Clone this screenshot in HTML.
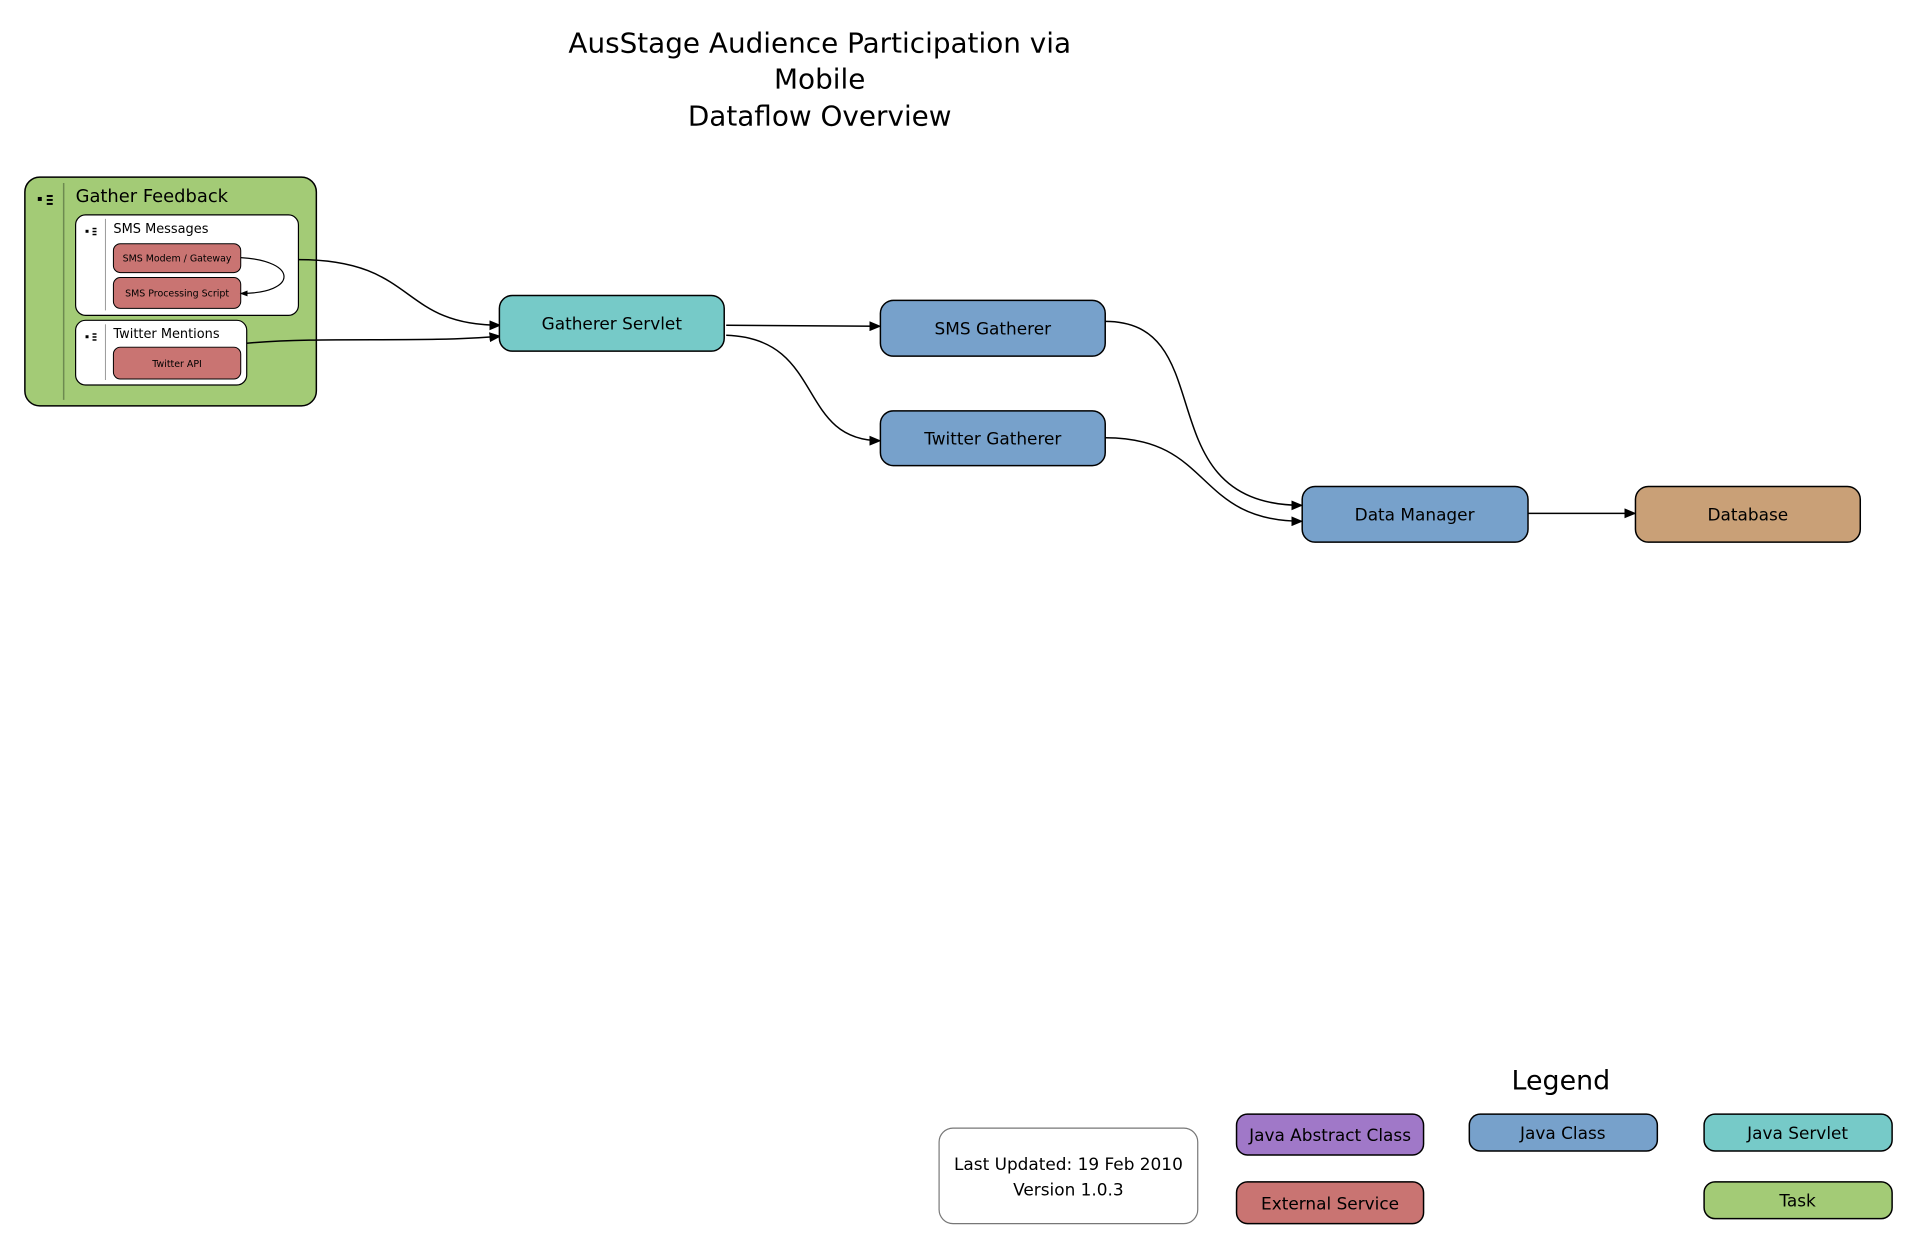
<!DOCTYPE html>
<html><head><meta charset="utf-8"><style>
html,body{margin:0;padding:0;background:#fff;}
svg{display:block;font-family:"DejaVu Sans","Liberation Sans",sans-serif;}
</style></head><body>
<svg width="1918" height="1250" viewBox="0 0 1918 1250" xmlns="http://www.w3.org/2000/svg">
<defs>
<marker id="a" markerWidth="12" markerHeight="10" refX="11" refY="5" orient="auto" markerUnits="userSpaceOnUse">
<path d="M0,0 L12,5 L0,10 z" fill="#000"/></marker>
<marker id="s" markerWidth="8" markerHeight="6" refX="7" refY="3" orient="auto" markerUnits="userSpaceOnUse">
<path d="M0,0 L8,3 L0,6 z" fill="#000"/></marker>
</defs>
<g transform="scale(0.9948)">
<g font-size="28" text-anchor="middle" fill="#000">
<text x="824" y="53">AusStage Audience Participation via</text>
<text x="824" y="89">Mobile</text>
<text x="824" y="126">Dataflow Overview</text>
</g>

<rect x="25" y="178" width="293" height="230" rx="15" fill="#a3cb76" stroke="#000" stroke-width="1.5"/>
<line x1="64" y1="184" x2="64" y2="402" stroke="#6d8a50" stroke-width="1.5"/>
<rect x="38" y="198" width="4" height="4" fill="#000"/><rect x="47" y="196" width="6" height="2" fill="#000"/><rect x="47" y="200" width="6" height="2" fill="#000"/><rect x="47" y="204" width="6" height="2" fill="#000"/>
<text x="76" y="203" font-size="18">Gather Feedback</text>

<rect x="76" y="216" width="224" height="101" rx="10" fill="#fff" stroke="#000" stroke-width="1.2"/>
<line x1="106" y1="220" x2="106" y2="312" stroke="#999"/>
<rect x="86" y="231" width="3" height="3" fill="#000"/><rect x="93" y="229" width="4" height="1.5" fill="#000"/><rect x="93" y="232" width="4" height="1.5" fill="#000"/><rect x="93" y="235" width="4" height="1.5" fill="#000"/>
<text x="114" y="234" font-size="13">SMS Messages</text>
<rect x="114" y="245" width="128" height="29" rx="7" fill="#c97472" stroke="#000"/>
<text x="178" y="263" font-size="9.5" text-anchor="middle">SMS Modem / Gateway</text>
<rect x="114" y="279" width="128" height="31" rx="7" fill="#c97472" stroke="#000"/>
<text x="178" y="298" font-size="9.5" text-anchor="middle">SMS Processing Script</text>
<path d="M242,259 C300,262 300,295 242,295" fill="none" stroke="#000" stroke-width="1.2" marker-end="url(#s)"/>

<rect x="76" y="322" width="172" height="65" rx="10" fill="#fff" stroke="#000" stroke-width="1.2"/>
<line x1="106" y1="326" x2="106" y2="382" stroke="#999"/>
<rect x="86" y="337" width="3" height="3" fill="#000"/><rect x="93" y="335" width="4" height="1.5" fill="#000"/><rect x="93" y="338" width="4" height="1.5" fill="#000"/><rect x="93" y="341" width="4" height="1.5" fill="#000"/>
<text x="114" y="340" font-size="13">Twitter Mentions</text>
<rect x="114" y="349" width="128" height="32" rx="7" fill="#c97472" stroke="#000"/>
<text x="178" y="369" font-size="9.5" text-anchor="middle">Twitter API</text>

<g fill="none" stroke="#000" stroke-width="1.5">
<path d="M300,261 C420,261 400,327 503,327" marker-end="url(#a)"/>
<path d="M248,345 C330,338 420,345 503,338" marker-end="url(#a)"/>
<path d="M730,327 L885,328" marker-end="url(#a)"/>
<path d="M730,337 C830,340 800,443 885,443" marker-end="url(#a)"/>
<path d="M1111,323 C1230,323 1150,508 1309,508" marker-end="url(#a)"/>
<path d="M1111,440 C1220,440 1200,524 1309,524" marker-end="url(#a)"/>
<path d="M1536,516 L1644,516" marker-end="url(#a)"/>
</g>

<g stroke="#000" stroke-width="1.5">
<rect x="502" y="297" width="226" height="56" rx="13" fill="#76cac8"/>
<rect x="885" y="302" width="226" height="56" rx="13" fill="#77a1cb"/>
<rect x="885" y="413" width="226" height="55" rx="13" fill="#77a1cb"/>
<rect x="1309" y="489" width="227" height="56" rx="13" fill="#77a1cb"/>
<rect x="1644" y="489" width="226" height="56" rx="13" fill="#c9a077"/>
</g>
<g font-size="17" text-anchor="middle">
<text x="615" y="331">Gatherer Servlet</text>
<text x="998" y="336">SMS Gatherer</text>
<text x="998" y="447">Twitter Gatherer</text>
<text x="1422" y="523">Data Manager</text>
<text x="1757" y="523">Database</text>
</g>

<text x="1569" y="1095" font-size="27" text-anchor="middle">Legend</text>
<rect x="944" y="1134" width="260" height="96" rx="14" fill="#fff" stroke="#777" stroke-width="1.2"/>
<text x="1074" y="1176" font-size="17" text-anchor="middle">Last Updated: 19 Feb 2010</text>
<text x="1074" y="1202" font-size="17" text-anchor="middle">Version 1.0.3</text>
<g stroke="#000" stroke-width="1.5">
<rect x="1243" y="1120" width="188" height="41" rx="11" fill="#a078c8"/>
<rect x="1243" y="1188" width="188" height="42" rx="11" fill="#c97472"/>
<rect x="1477" y="1120" width="189" height="37" rx="11" fill="#77a1cb"/>
<rect x="1713" y="1120" width="189" height="37" rx="11" fill="#76cac8"/>
<rect x="1713" y="1188" width="189" height="37" rx="11" fill="#a3cb76"/>
</g>
<g font-size="17" text-anchor="middle">
<text x="1337" y="1147">Java Abstract Class</text>
<text x="1337" y="1216">External Service</text>
<text x="1571" y="1145">Java Class</text>
<text x="1807" y="1145">Java Servlet</text>
<text x="1807" y="1213">Task</text>
</g>
</g>
</svg>
</body></html>
